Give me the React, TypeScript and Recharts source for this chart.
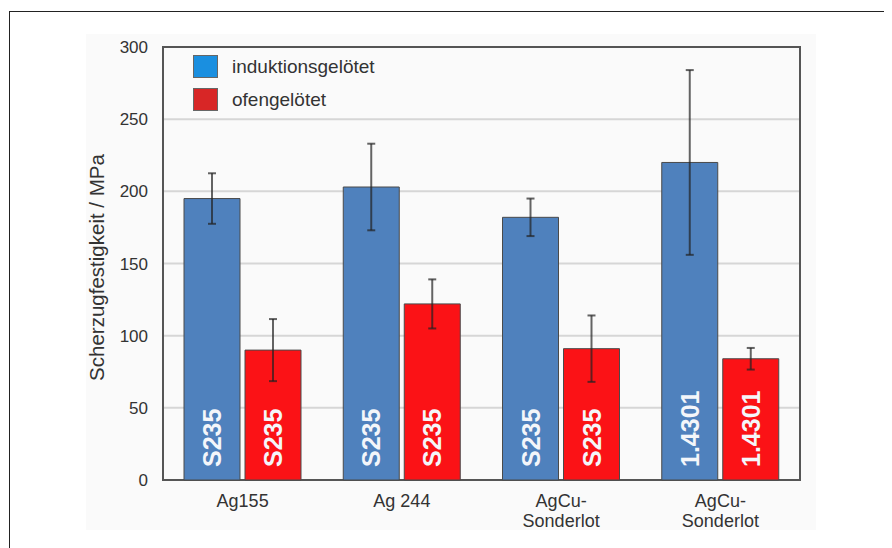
import {
  BarChart,
  Bar,
  XAxis,
  YAxis,
  CartesianGrid,
  ErrorBar,
  LabelList,
  Legend,
  ReferenceArea,
  Label,
} from "recharts";

const categories = ["Ag155", "Ag 244", "AgCu-\nSonderlot", "AgCu-\nSonderlot"];
const materials = ["S235", "S235", "S235", "1.4301"];
const induktion = [195, 203, 182, 220];
const induktionErr = [17.5, 30, 13, 64];
const ofen = [90, 122, 91, 84];
const ofenErr = [21.5, 17, 23, 7.5];
const yTicks = [0, 50, 100, 150, 200, 250, 300];

const FONT = '"Liberation Sans", Arial, Helvetica, sans-serif';

const data = categories.map((name, i) => ({
  name,
  material: materials[i],
  induktion: induktion[i],
  induktionErr: induktionErr[i],
  ofen: ofen[i],
  ofenErr: ofenErr[i],
}));

const legendItems = [
  { label: "induktionsgelötet", color: "#1a8fe0" },
  { label: "ofengelötet", color: "#d82626" },
];

const BarText = (props: any) => {
  const { x, y, width, height, value } = props;
  const cx = Number(x) + Number(width) / 2;
  const by = Number(y) + Number(height) - 13;
  return (
    <text
      x={cx}
      y={by}
      transform={`rotate(-90 ${cx} ${by})`}
      textAnchor="start"
      dominantBaseline="central"
      fill="#f4f6fa"
      fontSize={25}
      fontWeight="bold"
      fontFamily={FONT}
    >
      {value}
    </text>
  );
};

const XTick = (props: any) => {
  const { x, y, payload } = props;
  const lines = String(payload.value).split("\n");
  return (
    <text x={x} y={y} textAnchor="middle" fill="#333" fontSize={18} fontFamily={FONT}>
      {lines.map((l, i) => (
        <tspan key={i} x={x} dy={i === 0 ? 19 : 20}>
          {l}
        </tspan>
      ))}
    </text>
  );
};

const LegendBox = () => (
  <div style={{ fontFamily: FONT, fontSize: 19, color: "#333" }}>
    {legendItems.map((it) => (
      <div key={it.label} style={{ display: "flex", alignItems: "center", height: 33 }}>
        <div
          style={{
            width: 25,
            height: 23,
            background: it.color,
            border: "1px solid #666",
            boxSizing: "border-box",
            marginRight: 14,
          }}
        />
        <span>{it.label}</span>
      </div>
    ))}
  </div>
);

export default function App() {
  return (
    <div style={{ position: "relative", width: 884, height: 540, background: "#fff" }}>
      <div
        style={{
          position: "absolute",
          left: 1,
          top: 3,
          width: 900,
          height: 560,
          borderLeft: "1px solid #222",
          borderTop: "1px solid #222",
        }}
      />
      <div style={{ position: "absolute", left: 78, top: 26, background: "#fafafa" }}>
        <BarChart
          width={730}
          height={496}
          data={data}
          margin={{ top: 13, right: 16, bottom: 0, left: 0 }}
          barSize={56}
          barGap={5}
          style={{ overflow: "visible" }}
        >
          <CartesianGrid vertical={false} stroke="#d6d6d6" strokeWidth={2} />
          <XAxis
            dataKey="name"
            height={50}
            axisLine={false}
            tickLine={false}
            tickMargin={2}
            tick={<XTick />}
            interval={0}
          />
          <YAxis
            width={77}
            domain={[0, 300]}
            ticks={yTicks}
            axisLine={false}
            tickLine={false}
            tickMargin={9}
            tick={{ fill: "#333", fontSize: 17, fontFamily: FONT }}
          >
            <Label
              content={(p: any) => {
                const vb = p.viewBox || {};
                const cx = (vb.x ?? 0) + 10;
                const cy = (vb.y ?? 0) + (vb.height ?? 0) / 2 + 4;
                return (
                  <text
                    x={cx}
                    y={cy}
                    transform={`rotate(-90 ${cx} ${cy})`}
                    textAnchor="middle"
                    dominantBaseline="central"
                    fill="#333"
                    fontSize={20.5}
                    fontFamily={FONT}
                  >
                    Scherzugfestigkeit / MPa
                  </text>
                );
              }}
            />
          </YAxis>
          <Legend
            layout="vertical"
            align="center"
            verticalAlign="middle"
            wrapperStyle={{ position: "absolute", left: 107, top: 16, width: 250 }}
            content={<LegendBox />}
          />
          <Bar dataKey="induktion" fill="#4f81bd" stroke="#4a4a4a" strokeWidth={1} isAnimationActive={false}>
            <ErrorBar dataKey="induktionErr" width={4} stroke="#222" strokeOpacity={0.7} strokeWidth={2} />
            <LabelList dataKey="material" content={<BarText />} />
          </Bar>
          <Bar dataKey="ofen" fill="#fb1216" stroke="#4a4a4a" strokeWidth={1} isAnimationActive={false}>
            <ErrorBar dataKey="ofenErr" width={4} stroke="#222" strokeOpacity={0.7} strokeWidth={2} />
            <LabelList dataKey="material" content={<BarText />} />
          </Bar>
          <ReferenceArea y1={0} y2={300} fill="none" stroke="#555" strokeWidth={2} ifOverflow="visible" />
        </BarChart>
      </div>
    </div>
  );
}
